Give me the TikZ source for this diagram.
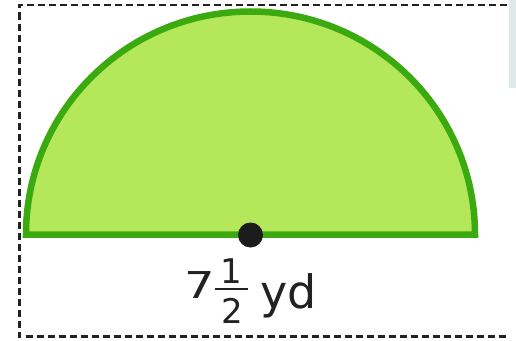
\documentclass[tikz,border=0pt]{standalone}
\usepackage{fontspec}
\setmainfont{DejaVu Sans}
\definecolor{fillgreen}{HTML}{B4E85A}
\definecolor{edgegreen}{HTML}{3AAA10}
\definecolor{dotblack}{HTML}{1C1C1C}
\definecolor{panel}{HTML}{DFE9EA}
\definecolor{ink}{HTML}{222222}
\tikzset{
  frame/.style={draw=ink, line width=2.4pt, dash pattern=on 7pt off 4pt},
  halfdisc/.style={fill=fillgreen, draw=edgegreen, line width=6.5pt, line join=miter},
  centre/.style={circle, fill=dotblack, inner sep=0pt, minimum size=25pt},
  label/.style={text=ink, inner sep=0pt, anchor=base}
}
\begin{document}
\begin{tikzpicture}[x=1pt,y=-1pt]
\useasboundingbox (0,0) rectangle (516,340);
\fill[panel] (509,0) rectangle (516,88);
\draw[frame] (507,5) -- (19.5,5) -- (19.5,336.5) -- (507,336.5);
\draw[halfdisc] (26,234.5) arc[start angle=180, end angle=360, x radius=224.5, y radius=223] -- cycle;
\node[centre] (c) at (250.5,235) {};
\node[label, font=\fontsize{37}{37}\selectfont, xscale=1.3] (seven) at (199.5,298.5) {7};
\node[label, font=\fontsize{34}{34}\selectfont] (one) at (231,283) {1};
\node[label, font=\fontsize{34}{34}\selectfont] (two) at (232,323) {2};
\draw[line width=2.5pt, ink] (215,289) -- (248,289);
\node[label, font=\fontsize{46}{46}\selectfont, anchor=base west] (yd) at (260,308) {yd};
\end{tikzpicture}
\end{document}
